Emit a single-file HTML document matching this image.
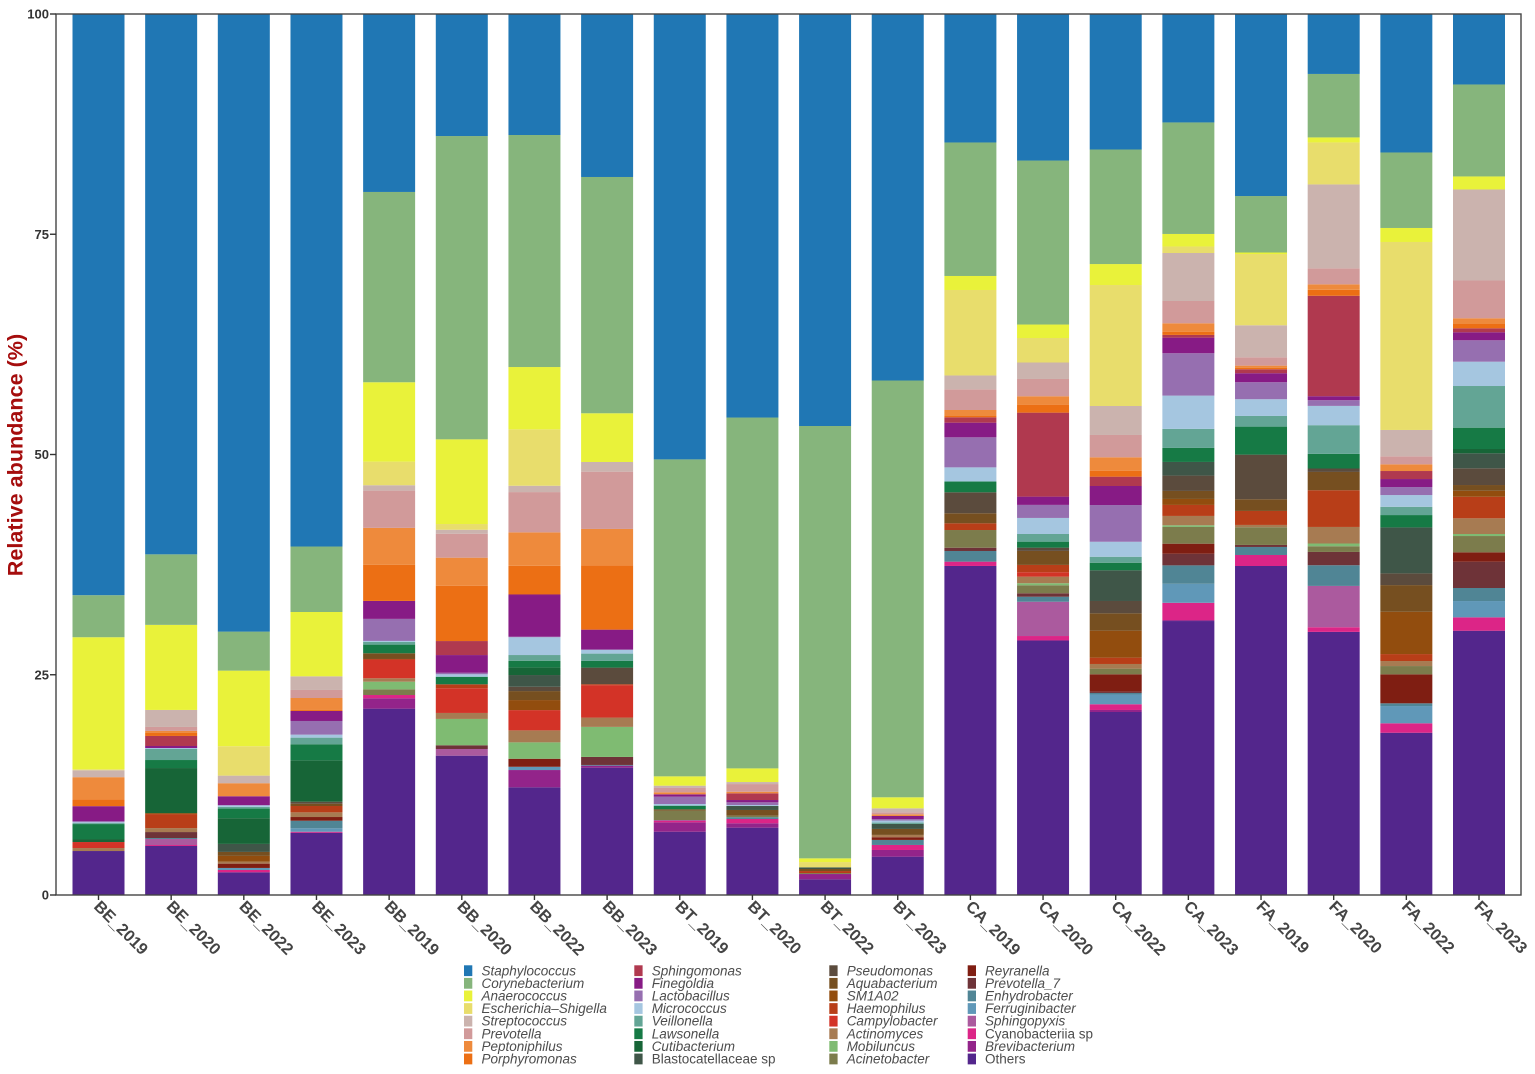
<!DOCTYPE html>
<html>
<head>
<meta charset="utf-8">
<title>Relative abundance by sample</title>
<style>
html,body{margin:0;padding:0;background:#fff;}
svg{display:block;font-family:"Liberation Sans",sans-serif;}
</style>
</head>
<body>
<svg id="chart" width="1535" height="1074" viewBox="0 0 1535 1074" xmlns="http://www.w3.org/2000/svg"></svg>
<script>
const samples = ["BE_2019","BE_2020","BE_2022","BE_2023","BB_2019","BB_2020","BB_2022","BB_2023","BT_2019","BT_2020","BT_2022","BT_2023","CA_2019","CA_2020","CA_2022","CA_2023","FA_2019","FA_2020","FA_2022","FA_2023"];
const genera = ["Staphylococcus","Corynebacterium","Anaerococcus","Escherichia–Shigella","Streptococcus","Prevotella","Peptoniphilus","Porphyromonas","Sphingomonas","Finegoldia","Lactobacillus","Micrococcus","Veillonella","Lawsonella","Cutibacterium","Blastocatellaceae sp","Pseudomonas","Aquabacterium","SM1A02","Haemophilus","Campylobacter","Actinomyces","Mobiluncus","Acinetobacter","Reyranella","Prevotella_7","Enhydrobacter","Ferruginibacter","Sphingopyxis","Cyanobacteriia sp","Brevibacterium","Others"];
const generaColors = ["#2077b4","#86b57c","#e9f23a","#e8dd6c","#cbb3ae","#d19a9a","#ee8a3c","#ec6f14","#b0394f","#871b85","#966fb0","#a5c6e0","#63a595","#167a45","#176537","#3f5648","#5b4b3d","#764f20","#924d0e","#b83e18","#d33327","#a77b52","#7fbb72","#7c7c4c","#7f1e12","#6e3338","#508595","#6098b8","#ab5a9e","#dc2587","#93248a","#53268c"];
const yTicks = [0,25,50,75,100];

// One array per sample: % abundance of each genus, in the order of `genera`.
const be2019 = [65.95,4.77,14.98,.11,.79,0,2.5,.79, 0,1.7,.11,.11,.11,1.7,.34,0, 0,0,0,0,.68,.34,0,0, 0,0,0,0,0,0,0,4.99];
const be2020 = [61.29,8,9.65,0,1.93,.45,.23,.34, 1.14,.23,0,.11,1.25,.91,5.11,0, 0,0,.11,1.59,0,.45,0,0, 0,.68,.11,0,.68,.11,0,5.56];
const be2022 = [70.11,4.43,8.58,3.34,.86,0,1.48,0, 0,1.02,0,.19,.19,1.09,2.92,.91, 0,.45,.65,0,0,.23,0,0, .49,0,0,.23,0,.26,0,2.58];
const be2023 = [60.44,7.43,7.3,0,1.55,.91,1.36,.11, 0,1.14,1.55,.34,.75,1.82,4.7,0, .23,.26,0,.72,0,.53,0,0, .42,0,.86,.39,0,.11,0,7.07];
const bb2019 = [20.2,21.6,9.01,2.68,.61,4.23,4.2,4.09, 0,2.04,2.5,.11,.31,.98,0,0, 0,.65,0,.11,2.08,.39,.86,.65, 0,0,0,0,0,.37,1.18,21.15];
const bb2020 = [13.85,34.42,9.61,.65,.45,2.72,3.18,6.28, 1.59,2.01,.17,.28,0,.86,0,0, 0,0,0,.45,2.8,.68,2.99,0, 0,.42,0,0,.76,0,0,15.81];
const bb2022 = [13.73,26.33,7.07,6.4,.72,4.57,3.79,3.21, .11,4.73,.06,2.02,.65,.75,.87,1.33, .49,1.02,1.14,0,2.3,1.36,1.86,0, .91,0,0,.37,0,0,1.96,12.22];
const bb2023 = [18.5,26.82,5.53,0,1.1,6.5,4.12,7.31, 0,2.27,0,.45,.83,.76,0,0, 1.88,0,0,.11,3.68,1.06,3.41,0, 0,.91,.08,0,0,0,.23,14.45];
const bt2019 = [50.56,35.98,1.06,0,.26,.49,.23,0, 0,.27,.83,.19,0,.41,0,0, 0,.16,0,0,0,0,0,1.06, 0,0,0,0,.11,.15,1.07,7.18];
const bt2020 = [45.8,39.82,1.55,0,.23,.87,.18,0, .76,.26,.31,.11,0,0,0,.45, 0,.65,0,0,0,0,0,.17, 0,0,.2,0,0,.49,.5,7.64];
const bt2022 = [46.76,49.07,.42,.6,0,0,0,0, 0,0,0,0,0,0,0,.19, 0,.23,0,.23,0,0,0,.11, 0,0,0,0,0,0,.6,1.78];
const bt2023 = [41.6,47.31,1.25,0,.45,.23,.19,0, 0,.37,.15,.23,.15,0,0,.57, 0,.68,0,0,0,.26,0,0, .31,0,.57,0,0,.57,.76,4.35];
const ca2019 = [14.58,15.15,1.59,9.7,1.57,2.35,.68,.15, .61,1.66,3.41,1.55,.11,1.17,0,0, 2.38,1.14,0,.76,0,0,0,2.01, 0,.37,1.21,0,0,.49,0,37.34];
const ca2020 = [16.63,18.61,1.53,2.78,1.87,1.96,.95,.91, 9.53,.94,1.48,1.82,.87,.68,0,0, .37,1.59,0,.83,.5,.75,.23,.91, 0,.39,.57,0,3.89,.45,.11,28.83];
const ca2022 = [15.38,13,2.38,13.73,3.29,2.53,1.52,.68, 1.06,2.16,4.17,1.7,.68,.86,0,3.48, 1.4,1.97,3.06,.72,0,.53,0,.64, 1.97,.15,.17,1.11,0,.65,.23,20.77];
const ca2023 = [12.31,12.66,1.42,.74,5.45,2.53,.95,.37, .31,1.77,4.81,3.78,2.16,1.59,0,1.55, 1.74,.91,.68,1.25,0,1.06,.19,1.9, 1.14,1.32,2.09,2.16,0,1.96,.11,31.1];
const fa2019 = [20.66,6.41,.17,8.09,3.63,.95,.23,.18, .45,1.02,1.93,1.9,1.21,3.18,0,0, 5.06,1.33,0,1.59,0,.26,0,2.01, 0,.23,.91,0,0,1.25,0,37.34];
const fa2020 = [6.81,7.21,.57,4.77,9.53,1.82,.62,.68, 11.41,.45,.65,2.19,3.26,1.66,0,0, .39,2.08,0,4.17,0,1.88,.31,.65, 0,1.51,2.35,0,4.69,.53,0,29.89];
const fa2022 = [15.72,8.57,1.59,21.34,2.99,.91,.76,0, .91,.91,.91,1.33,.94,1.4,0,5.22, 1.33,3.03,4.8,.79,0,.57,0,.94, 3.29,0,.31,1.96,0,1.07,0,18.42];
const fa2023 = [8,10.44,1.48,0,10.33,4.29,.65,.49, .45,.91,2.43,2.76,4.73,2.42,.49,1.7, 1.9,.65,.68,2.45,0,1.78,.23,1.85, 1.07,2.98,1.48,1.85,0,1.52,0,30];
const sampleValues = [be2019,be2020,be2022,be2023,bb2019,bb2020,bb2022,bb2023,bt2019,bt2020,bt2022,bt2023,ca2019,ca2020,ca2022,ca2023,fa2019,fa2020,fa2022,fa2023];

const NS = "http://www.w3.org/2000/svg";
const svg = document.getElementById("chart");
const panel = {left:56, right:1521, top:14, bottom:895};
const xStep = (1479 - 98.5) / (samples.length - 1);
const barWidth = 52;
function xScale(i){ return 98.5 + i * xStep; }
function yScale(v){ return panel.bottom - v / 100 * (panel.bottom - panel.top); }
function make(tag, attrs, parent){
  const el = document.createElementNS(NS, tag);
  for (const k in attrs) el.setAttribute(k, attrs[k]);
  (parent || svg).appendChild(el);
  return el;
}

const barsGroup = make("g", {});


sampleValues.forEach(function(values, i){
  const total = values.reduce(function(a, b){ return a + b; }, 0);
  const barGroup = make("g", {}, barsGroup);
  
  
  let cum = 0;
  for (let s = genera.length - 1; s >= 0; s--){
    const share = values[s] / total * 100;
    if (share <= 0) continue;
    const y1 = yScale(cum);
    const y0 = yScale(cum + share);
    const seg = make("rect", {x: xScale(i) - barWidth / 2, y: y0, width: barWidth, height: y1 - y0, fill: generaColors[s]}, barGroup);
    
    
    cum += share;
  }
});

const frame = make("rect", {x: panel.left, y: panel.top, width: panel.right - panel.left, height: panel.bottom - panel.top, fill: "none", stroke: "#444", "stroke-width": 1.4});



yTicks.forEach(function(t){
  const y = yScale(t);
  const tick = make("line", {x1: panel.left - 6, x2: panel.left, y1: y, y2: y, stroke: "#333", "stroke-width": 1.4});
  
  
  const label = make("text", {x: panel.left - 7, y: y + 4.5, "text-anchor": "end", "font-size": 13, "font-weight": "bold", fill: "#333"});
  label.textContent = t;
  
  
});

samples.forEach(function(name, i){
  const x = xScale(i);
  const tick = make("line", {x1: x, x2: x, y1: panel.bottom, y2: panel.bottom + 5, stroke: "#333", "stroke-width": 1.4});
  
  
  const lx = x - 5.5, ly = 907.5;
  const label = make("text", {x: lx, y: ly, transform: "rotate(45 " + lx + " " + ly + ")", "font-size": 16.4, "font-weight": "bold", fill: "#444"});
  label.textContent = name;
  
  
});

const yTitle = make("text", {x: 22.5, y: 455, transform: "rotate(-90 22.5 455)", "text-anchor": "middle", "font-size": 21.6, "font-weight": "bold", fill: "#a50d0d"});
yTitle.textContent = "Relative abundance (%)";



const legendColumnX = [464, 634.3, 829.3, 967.7];
const legendTextX = [481.5, 651.7, 846.7, 985];
const legendGroup = make("g", {});


genera.forEach(function(g, idx){
  const col = Math.floor(idx / 8);
  const row = idx % 8;
  const cy = 970.7 + row * 12.61;
  const entry = make("g", {}, legendGroup);
  
  
  const sw = make("rect", {x: legendColumnX[col], y: cy - 5.4, width: 8.3, height: 10.8, fill: generaColors[idx]}, entry);
  
  
  const upright = g === "Blastocatellaceae sp" || g === "Cyanobacteriia sp" || g === "Others";
  const t = make("text", {x: legendTextX[col], y: cy + 4.6, "font-size": 13.5, fill: "#4d4d4d", "font-style": upright ? "normal" : "italic"}, entry);
  t.textContent = g;
  
  
});
</script>
</body>
</html>
